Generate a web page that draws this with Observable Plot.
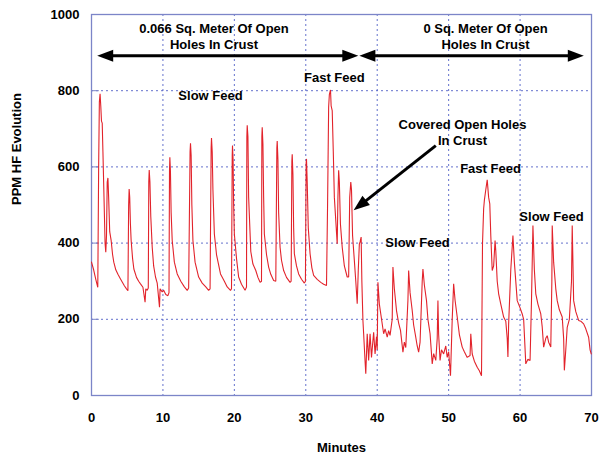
<!DOCTYPE html>
<html>
<head>
<meta charset="utf-8">
<script src="https://cdn.jsdelivr.net/npm/d3@7"></script>
<script src="https://cdn.jsdelivr.net/npm/@observablehq/plot@0.6"></script>
<style>
  html, body { margin: 0; padding: 0; background: #fff; }
  #chart svg { display: block; }
</style>
</head>
<body>
<div id="chart"></div>
<script>
// ---- data ----
const minutes = [
  0.0,0.3,0.6,0.88,1.0,1.1,1.2,1.3,1.4,1.5,1.6,1.75,1.9,2.0,2.1,2.2,2.3,2.4,2.55,2.75,2.95,3.12,3.4,3.7,4.06,4.3,4.6,4.9,
  5.1,5.2,5.27,5.35,5.45,5.55,5.75,5.93,6.3,6.6,6.86,7.2,7.5,7.6,7.8,7.95,8.02,8.08,8.18,8.3,8.5,8.7,8.96,9.2,9.52,9.6,9.9,
  10.1,10.4,10.7,10.85,10.92,10.97,11.05,11.15,11.3,11.6,12.0,12.5,13.0,13.4,13.6,13.8,13.86,13.95,14.05,14.2,14.5,15.0,
  15.5,16.0,16.4,16.6,16.75,16.8,16.9,17.0,17.2,17.5,18.06,18.6,19.0,19.46,19.6,19.7,19.74,19.82,19.9,20.0,20.3,20.6,21.0,
  21.5,21.7,21.75,21.8,21.9,22.0,22.3,22.6,23.0,23.3,23.6,23.8,23.85,23.9,24.0,24.1,24.2,24.5,24.8,25.1,25.5,25.8,25.95,
  26.0,26.1,26.2,26.4,26.6,26.9,27.3,27.8,27.95,28.05,28.1,28.2,28.3,28.4,28.7,29.0,29.4,29.8,29.95,30.05,30.1,30.2,30.35,
  30.6,30.85,31.1,31.6,32.1,32.5,32.9,33.05,33.2,33.3,33.46,33.55,33.7,33.85,34.0,34.2,34.4,34.5,34.6,34.7,34.85,35.1,35.4,
  35.8,36.0,36.15,36.3,36.4,36.55,36.8,37.0,37.2,37.35,37.5,37.6,37.75,37.85,38.0,38.1,38.3,38.4,38.6,38.8,39.0,39.2,39.5,
  39.7,39.9,40.0,40.1,40.3,40.5,40.9,41.1,41.4,41.6,41.8,42.1,42.2,42.4,42.7,43.0,43.26,43.6,43.8,44.0,44.3,44.4,44.6,44.9,
  45.1,45.36,45.6,45.8,46.0,46.3,46.4,46.6,46.9,47.1,47.4,47.7,47.9,48.2,48.4,48.5,48.6,48.8,49.0,49.3,49.6,49.8,50.0,50.26,
  50.5,50.7,50.9,51.2,51.5,51.9,52.2,52.6,53.0,53.1,53.3,53.6,54.0,54.3,54.6,54.74,54.9,55.0,55.2,55.4,55.6,55.76,55.9,56.1,
  56.3,56.5,56.6,56.8,57.0,57.3,57.7,58.0,58.2,58.3,58.4,58.7,59.0,59.2,59.6,60.0,60.3,60.5,60.8,61.1,61.4,61.6,61.8,62.0,
  62.2,62.5,62.9,63.1,63.3,63.6,63.8,64.0,64.3,64.45,64.5,64.7,65.0,65.2,65.5,65.9,66.1,66.2,66.4,66.6,66.9,67.2,67.3,67.4,
  67.5,67.8,68.2,68.5,68.9,69.2,69.6,69.8,69.96
];
const ppm = [
  350,330,305,284,600,770,792,760,720,715,640,520,400,376,420,560,571,520,430,407,370,350,330,318,306,298,288,280,
  275,500,542,520,450,407,360,332,310,300,293,284,245,280,276,282,560,592,560,470,389,340,311,295,232,280,272,
  276,265,262,270,590,625,590,480,407,350,319,300,285,276,282,640,662,630,500,407,350,311,
  295,285,276,280,650,676,640,540,424,370,319,300,285,276,280,630,656,620,500,424,360,311,292,
  276,285,680,709,680,520,378,345,328,310,297,300,680,704,660,520,424,370,337,318,302,300,650,
  668,620,480,389,355,328,310,297,300,615,633,580,440,372,340,319,305,295,300,610,621,560,440,
  372,335,315,305,297,292,289,500,757,790,802,760,748,640,520,459,398,520,591,560,450,389,340,
  311,311,520,560,540,420,354,300,241,330,398,403,416,300,197,162,90,57,162,92,162,100,166,
  109,155,120,297,240,214,162,175,153,170,158,200,337,280,223,190,171,114,140,126,250,328,270,223,
  185,157,130,114,140,300,332,290,249,200,162,83,110,92,150,249,160,92,120,109,130,100,115,52,
  200,293,250,206,160,127,115,100,105,162,109,90,74,65,52,398,490,512,540,566,520,503,420,328,
  340,407,380,300,267,240,206,195,150,101,188,330,420,350,249,230,214,200,83,95,92,250,446,330,
  267,240,214,180,127,150,157,140,127,300,446,350,280,249,225,206,150,66,120,179,200,300,446,350,
  249,220,197,195,188,175,153,120,109
];
const xTicks = [0, 10, 20, 30, 40, 50, 60, 70];
const yTicks = [0, 200, 400, 600, 800, 1000];

// annotations
const spanArrows = [ // [from, to] in minutes, at a PPM level
  {a: 0.8, b: 37.35, v: 892},
  {a: 37.5, b: 68.92, v: 892}
];
const spanLabels = [
  {t: 17.15, v: 945, text: "0.066 Sq. Meter Of Open\nHoles In Crust"},
  {t: 55.16, v: 945, text: "0 Sq. Meter Of Open\nHoles In Crust"}
];
const feedLabels = [
  {t: 34.0, v: 835, text: "Fast Feed"},
  {t: 16.66, v: 790, text: "Slow Feed"},
  {t: 45.64, v: 402, text: "Slow Feed"},
  {t: 55.86, v: 598, text: "Fast Feed"},
  {t: 64.4, v: 472, text: "Slow Feed"},
  {t: 51.94, v: 693, text: "Covered Open Holes\nIn Crust"}
];
const pointer = {t1: 48.2, v1: 656, t2: 36.7, v2: 486, tb: 37.6, vb: 499};

// ---- build ----
const series = minutes.map((m, i) => ({m, v: ppm[i]}));
const head = {
  draw(ctx) {
    ctx.moveTo(0, 0);
    ctx.lineTo(-16, -6);
    ctx.lineTo(-16, 6);
    ctx.closePath();
  }
};
const heads = [];
const links = [];
for (const s of spanArrows) {
  heads.push({t: s.a, v: s.v, rot: 180});
  heads.push({t: s.b, v: s.v, rot: 0});
  links.push({t1: s.a + 1.8, t2: s.b - 1.8, v1: s.v, v2: s.v});
}
heads.push({t: pointer.t2, v: pointer.v2, rot: 141.6});
links.push({t1: pointer.t1, v1: pointer.v1, t2: pointer.tb, v2: pointer.vb});

const gridColor = "#5262c6";
const frameColor = "#7c85c8";

const chart = Plot.plot({
  width: 600,
  height: 457,
  marginLeft: 91,
  marginRight: 9,
  marginTop: 14,
  marginBottom: 62,
  style: {fontFamily: "'Liberation Sans', Arial, sans-serif", fontWeight: "bold", fontSize: "13px", color: "#000", background: "#fff"},
  x: {domain: [0, 70]},
  y: {domain: [0, 1000]},
  marks: [
    Plot.gridX(xTicks.slice(1, -1), {stroke: gridColor, strokeOpacity: 0.9, strokeDasharray: "2,3"}),
    Plot.gridY(yTicks.slice(1, -1), {stroke: gridColor, strokeOpacity: 0.9, strokeDasharray: "2,3"}),
    Plot.ruleY(yTicks.slice(1, -1), {x1: 0, x2: 1.1, stroke: frameColor}),
    Plot.frame({stroke: frameColor, strokeWidth: 1.3}),
    Plot.axisX(xTicks, {tickSize: 0, tickPadding: 17, tickFormat: d => String(d), label: null, fontSize: 13, fontWeight: "bold"}),
    Plot.axisY(yTicks, {tickSize: 0, tickPadding: 12, tickFormat: d => String(d), label: null, fontSize: 13, fontWeight: "bold"}),
    Plot.text(["Minutes"], {frameAnchor: "bottom", dy: 56, fontSize: 13, fontWeight: "bold"}),
    Plot.text(["PPM HF Evolution"], {frameAnchor: "left", dx: -75, rotate: -90, fontSize: 13, fontWeight: "bold"}),
    Plot.line(series, {x: "m", y: "v", stroke: "#e2232b", strokeWidth: 1.1, strokeLinejoin: "miter"}),
    Plot.link(links, {x1: "t1", y1: "v1", x2: "t2", y2: "v2", stroke: "#000", strokeWidth: 3}),
    Plot.dot(heads, {x: "t", y: "v", rotate: "rot", symbol: head, fill: "#000", stroke: "none"}),
    Plot.text(spanLabels, {x: "t", y: "v", text: "text", fontSize: 13, fontWeight: "bold", lineHeight: 1.23, fill: "#000"}),
    Plot.text(feedLabels, {x: "t", y: "v", text: "text", fontSize: 13, fontWeight: "bold", lineHeight: 1.23, fill: "#000"})
  ]
});
document.getElementById("chart").appendChild(chart);
</script>
</body>
</html>
